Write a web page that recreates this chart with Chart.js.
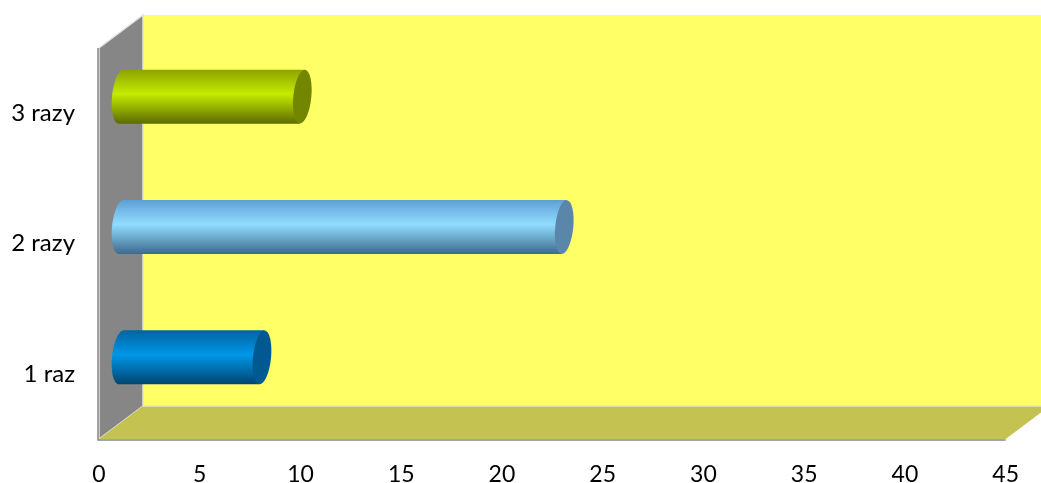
<!DOCTYPE html>
<html lang="pl">
<head>
    <meta charset="UTF-8">
    <title>Wykres</title>
    <style>
        html, body { margin: 0; padding: 0; background: #fff; overflow: hidden; }
        canvas { display: block; }
    </style>
</head>
<body>
    <canvas id="chart" width="1041" height="483"></canvas>
    <script src="https://cdn.jsdelivr.net/npm/chart.js"></script>
    <script>
        const categories = ['3 razy', '2 razy', '1 raz'];
        const values = [9, 22, 7];
        const xMin = 0;
        const xMax = 45;
        const xStep = 5;

        // top edge, bright band, bottom edge, end cap
        const barColors = [
            ['#8ea300', '#c4ec00', '#5c6b00', '#728600'],
            ['#5f9fd4', '#90dcff', '#3d6a8c', '#5a86aa'],
            ['#00659f', '#0096e8', '#004570', '#005a8f']
        ];

        // 3D depth of the box, in pixels
        const depthX = 44;
        const depthY = 33;

        const box3d = {
            id: 'box3d',
            beforeDatasetsDraw(chart) {
                const { ctx, chartArea: a } = chart;
                const poly = (pts, fill, edge) => {
                    ctx.beginPath();
                    pts.forEach((p, i) => i ? ctx.lineTo(p[0], p[1]) : ctx.moveTo(p[0], p[1]));
                    ctx.closePath();
                    ctx.fillStyle = fill;
                    ctx.fill();
                    if (edge) {
                        ctx.lineWidth = 1.5;
                        ctx.strokeStyle = '#e2e2e2';
                        ctx.stroke();
                    }
                };
                ctx.save();
                // back wall
                poly([[a.left + depthX, a.top - depthY], [a.right + depthX, a.top - depthY],
                      [a.right + depthX, a.bottom - depthY], [a.left + depthX, a.bottom - depthY]], '#ffff66', false);
                // side wall
                poly([[a.left, a.top], [a.left + depthX, a.top - depthY],
                      [a.left + depthX, a.bottom - depthY], [a.left, a.bottom]], '#868686', true);
                // floor
                poly([[a.left, a.bottom], [a.left + depthX, a.bottom - depthY],
                      [a.right + depthX, a.bottom - depthY], [a.right, a.bottom]], '#c4c250', false);
                // light edge where the floor meets the back wall
                ctx.beginPath();
                ctx.moveTo(a.left + depthX, a.bottom - depthY);
                ctx.lineTo(a.right + depthX, a.bottom - depthY);
                ctx.lineWidth = 1.5;
                ctx.strokeStyle = '#e8e8c0';
                ctx.stroke();
                // axis line
                ctx.beginPath();
                ctx.moveTo(a.left - 1, a.top);
                ctx.lineTo(a.left - 1, a.bottom + 1);
                ctx.lineTo(a.right, a.bottom + 1);
                ctx.lineWidth = 1.5;
                ctx.strokeStyle = '#868686';
                ctx.stroke();
                ctx.restore();
            },
            afterDatasetsDraw(chart) {
                const { ctx } = chart;
                const rx = 9;
                const tilt = 0.1;
                const skew = 2.5;
                chart.getDatasetMeta(0).data.forEach((el, i) => {
                    const c = barColors[i];
                    const xL = el.base + depthX / 2;
                    const xR = el.x + depthX / 2;
                    const yC = el.y - depthY / 2;
                    const ry = el.height / 2;
                    const grad = ctx.createLinearGradient(0, yC - ry, 0, yC + ry);
                    grad.addColorStop(0, c[0]);
                    grad.addColorStop(0.45, c[1]);
                    grad.addColorStop(1, c[2]);
                    ctx.save();
                    ctx.fillStyle = grad;
                    ctx.beginPath();
                    ctx.ellipse(xL, yC, rx, ry, tilt, 0, Math.PI * 2);
                    ctx.fill();
                    ctx.beginPath();
                    ctx.moveTo(xL + skew, yC - ry);
                    ctx.lineTo(xR + skew, yC - ry);
                    ctx.lineTo(xR - skew, yC + ry);
                    ctx.lineTo(xL - skew, yC + ry);
                    ctx.closePath();
                    ctx.fill();
                    ctx.fillStyle = c[3];
                    ctx.beginPath();
                    ctx.ellipse(xR, yC, rx, ry, tilt, 0, Math.PI * 2);
                    ctx.fill();
                    ctx.restore();
                });
            }
        };

        new Chart(document.getElementById('chart'), {
            type: 'bar',
            data: {
                labels: categories,
                datasets: [{
                    data: values,
                    backgroundColor: 'transparent',
                    barThickness: 54
                }]
            },
            options: {
                indexAxis: 'y',
                responsive: false,
                animation: false,
                layout: { autoPadding: false, padding: { top: 48, right: 28, left: 0, bottom: 0 } },
                plugins: { legend: { display: false }, tooltip: { enabled: false } },
                scales: {
                    x: {
                        min: xMin,
                        max: xMax,
                        grid: { display: false, drawTicks: false },
                        border: { display: false },
                        ticks: { stepSize: xStep, font: { family: 'Lato, sans-serif', size: 23 }, color: '#000', padding: 22, maxRotation: 0, autoSkip: false },
                        afterFit(scale) { scale.height = 44; }
                    },
                    y: {
                        grid: { display: false, drawTicks: false },
                        border: { display: false },
                        ticks: { font: { family: 'Lato, sans-serif', size: 24 }, color: '#000', padding: 24 },
                        afterFit(scale) { scale.width = 99; }
                    }
                }
            },
            plugins: [box3d]
        });
    </script>
</body>
</html>
